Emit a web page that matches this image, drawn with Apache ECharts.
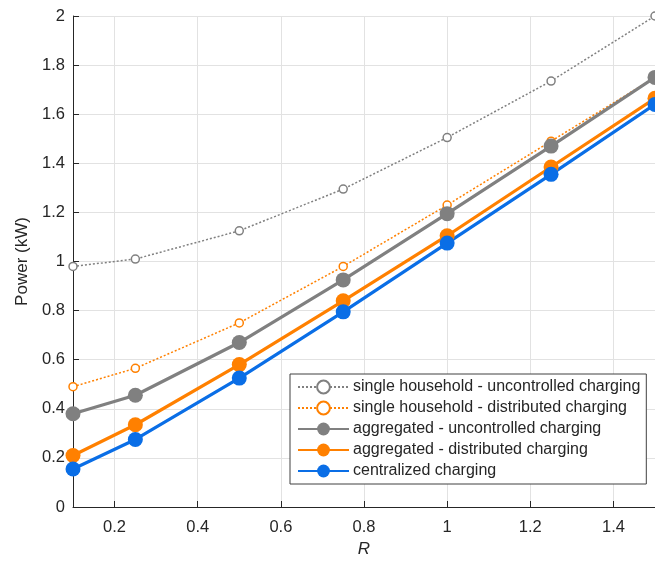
<!DOCTYPE html>
<html>
<head>
<meta charset="utf-8">
<script src="https://cdn.jsdelivr.net/npm/echarts@6/dist/echarts.min.js"></script>
<style>
  html, body { margin: 0; padding: 0; background: #fff; }
  #chart { width: 655px; height: 563px; }
</style>
</head>
<body>
<div id="chart"></div>
<script>
// R values where each case was evaluated
const rValues = [0.1, 0.25, 0.5, 0.75, 1.0, 1.25, 1.5];
const xTicks = [0.2, 0.4, 0.6, 0.8, 1.0, 1.2, 1.4];

const singleUncontrolled = [0.98, 1.01, 1.125, 1.295, 1.505, 1.735, 2.0];
const singleDistributed = [0.49, 0.565, 0.75, 0.98, 1.23, 1.49, 1.75];
const aggUncontrolled = [0.38, 0.455, 0.67, 0.925, 1.195, 1.47, 1.75];
const aggDistributed = [0.21, 0.335, 0.58, 0.84, 1.105, 1.385, 1.665];
const centralized = [0.155, 0.275, 0.525, 0.795, 1.075, 1.355, 1.64];

const GRAY = '#808080', ORANGE = '#ff8000', BLUE = '#0a6ee6';
const FONT = 'Liberation Sans';

const pairs = ys => rValues.map((r, i) => [r, ys[i]]);

const dottedSeries = (name, ys, color) => ({
  name, type: 'line', data: pairs(ys),
  symbol: 'circle', symbolSize: 8,
  itemStyle: { color: '#fff', borderColor: color, borderWidth: 1.5 },
  lineStyle: { color, width: 1.5, type: [2, 2] },
  z: 2
});
const solidSeries = (name, ys, color) => ({
  name, type: 'line', data: pairs(ys),
  symbol: 'circle', symbolSize: 15,
  itemStyle: { color, borderColor: color, borderWidth: 0 },
  lineStyle: { color, width: 3.2 },
  z: 3
});

const chart = echarts.init(document.getElementById('chart'));
chart.setOption({
  animation: false,
  textStyle: { fontFamily: FONT },
  grid: { left: 73, top: 16, right: -5, bottom: 55 },
  xAxis: {
    type: 'value', min: 0.1, max: 1.5,
    name: 'R', nameLocation: 'middle', nameGap: 34,
    nameTextStyle: { fontStyle: 'italic', fontSize: 17, color: '#262626' },
    axisLine: { lineStyle: { color: '#262626', width: 1 } },
    axisTick: { inside: true, length: 6, customValues: xTicks, lineStyle: { color: '#262626' } },
    axisLabel: { customValues: xTicks, fontSize: 16.5, color: '#262626', margin: 12,
                 formatter: v => String(Math.round(v * 10) / 10) },
    splitLine: { show: true, lineStyle: { color: '#e2e2e2', width: 1 } }
  },
  yAxis: {
    type: 'value', min: 0, max: 2, interval: 0.2,
    name: 'Power (kW)', nameLocation: 'middle', nameGap: 41,
    nameTextStyle: { fontSize: 17, color: '#262626' },
    axisLine: { show: true, lineStyle: { color: '#262626', width: 1 } },
    axisTick: { show: true, inside: true, length: 6, lineStyle: { color: '#262626' } },
    axisLabel: { fontSize: 16.5, color: '#262626', margin: 8,
                 formatter: v => String(Math.round(v * 10) / 10) },
    splitLine: { show: true, lineStyle: { color: '#e2e2e2', width: 1 } }
  },
  legend: {
    orient: 'vertical', left: 290, top: 374,
    backgroundColor: '#fff', borderColor: '#404040', borderWidth: 1,
    padding: [5, 6, 5, 7], itemWidth: 51, itemHeight: 16, itemGap: 5,
    textStyle: { fontSize: 16, color: '#262626', padding: [0, 0, 0, -1] },
    data: ['single household - uncontrolled charging', 'single household - distributed charging',
           'aggregated - uncontrolled charging', 'aggregated - distributed charging', 'centralized charging']
  },
  series: [
    dottedSeries('single household - uncontrolled charging', singleUncontrolled, GRAY),
    dottedSeries('single household - distributed charging', singleDistributed, ORANGE),
    solidSeries('aggregated - uncontrolled charging', aggUncontrolled, GRAY),
    solidSeries('aggregated - distributed charging', aggDistributed, ORANGE),
    solidSeries('centralized charging', centralized, BLUE)
  ]
});
</script>
</body>
</html>
